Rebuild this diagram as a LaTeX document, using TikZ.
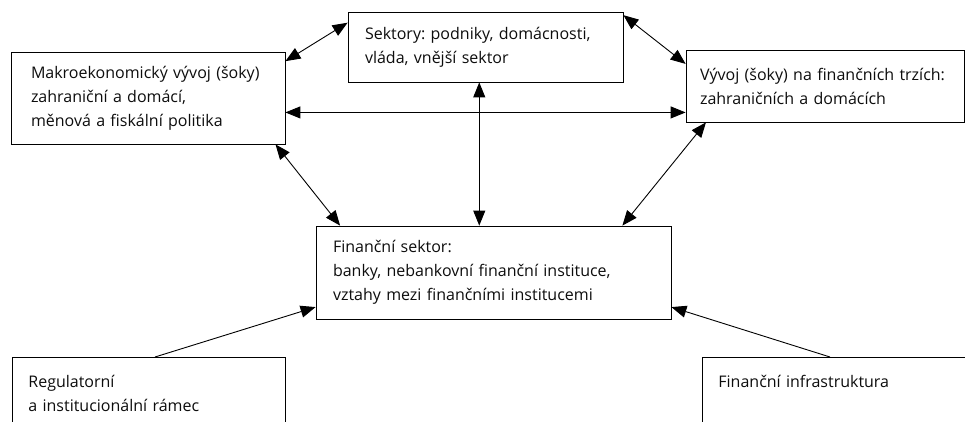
\documentclass[tikz,border=0pt]{standalone}
\usepackage{fontspec}
\setmainfont{Open Sans}
\usetikzlibrary{arrows.meta,calc}
\frenchspacing

\begin{document}
\begin{tikzpicture}[x=1pt,y=-1pt,
  box/.style={draw,line width=0.8pt,align=left,inner ysep=0pt,
    font=\fontsize{16}{24}\selectfont,text=black!95},
  link/.style={{Triangle[length=15pt,width=12pt]}-{Triangle[length=15pt,width=12pt]},line width=0.9pt},
  feed/.style={-{Triangle[length=15pt,width=12pt]},line width=0.9pt}]
  \path[use as bounding box,clip] (0,0) rectangle (965,422);

  \node[box,minimum width=274pt,minimum height=92pt,inner xsep=20pt,text width=234pt] (makro) at (148,98)
    {Makroekonomický vývoj (šoky)\\zahraniční a domácí,\\měnová a fiskální politika};
  \node[box,minimum width=275pt,minimum height=70pt,inner xsep=17pt,text width=241pt] (sektory) at (485.5,47)
    {Sektory: podniky, domácnosti,\\vláda, vnější sektor};
  \node[box,minimum width=278pt,minimum height=72pt,inner xsep=14pt,text width=250pt] (trhy) at (825,86)
    {Vývoj (šoky) na finančních trzích:\\zahraničních a domácích};
  \node[box,minimum width=355pt,minimum height=93pt,inner xsep=17pt,text width=321pt] (fin) at (493.5,272.5)
    {Finanční sektor:\\banky, nebankovní finanční instituce,\\vztahy mezi finančními institucemi};

  \node[box,anchor=north west,minimum width=273pt,inner xsep=16pt,inner ysep=18pt,text width=241pt,text depth=60pt] (regul) at (12,357)
    {Regulatorní\\a institucionální rámec};
  \node[box,anchor=north west,minimum width=280pt,inner xsep=16pt,inner ysep=18pt,text width=248pt,text depth=60pt] (infra) at (702,357)
    {Finanční infrastruktura};

  % vazby mezi bloky
  \draw[link] (makro.15) -- (sektory.170);
  \draw[link] (sektory.13) -- (trhy.171);
  \draw[link] (makro.-6) -- (makro.-6 -| trhy.west);
  \draw[link] (sektory.-100) -- (sektory.-100 |- fin.north);
  \draw[link] (makro.-20) -- (fin.163);
  \draw[link] (trhy.197) -- (fin.20);

  \draw[feed] ($(regul.north west)+(143,0)$) -- (fin.191);
  \draw[feed] ($(infra.north west)+(128,0)$) -- (fin.-11);
\end{tikzpicture}
\end{document}
